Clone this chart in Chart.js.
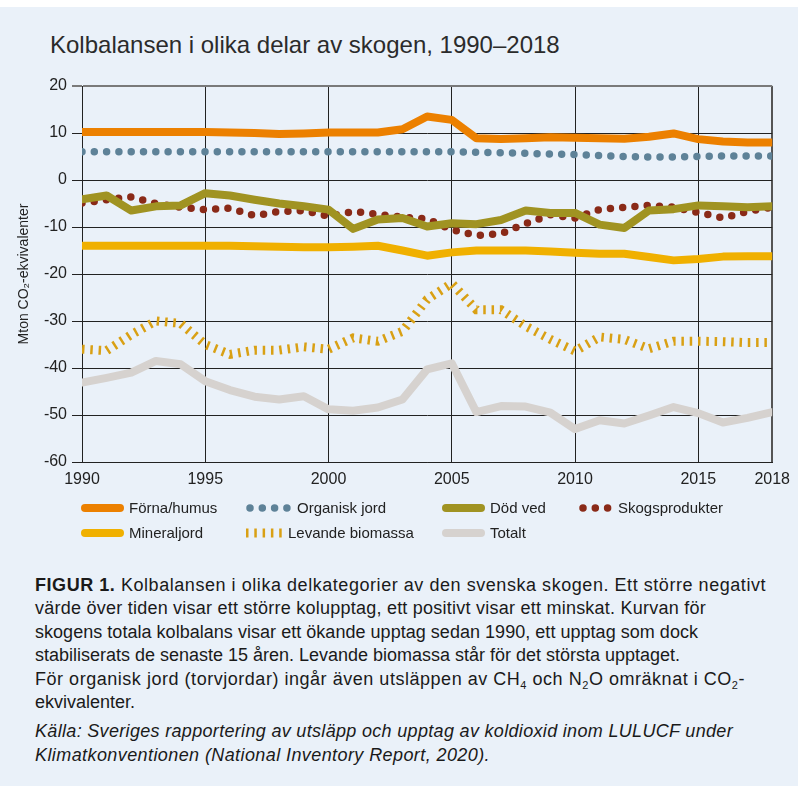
<!DOCTYPE html>
<html lang="sv">
<head>
<meta charset="utf-8">
<title>Kolbalansen i olika delar av skogen</title>
<script src="https://cdn.jsdelivr.net/npm/chart.js@4.4.1/dist/chart.umd.min.js"></script>
<style>
  html, body { margin: 0; padding: 0; }
  body {
    width: 798px; height: 786px; position: relative; overflow: hidden;
    background: #eaf1f9; color: #222;
    font-family: "Liberation Sans", Arial, sans-serif;
  }
  #topband { position: absolute; left: 0; top: 0; width: 798px; height: 7px; background: #fff; }
  #title {
    position: absolute; left: 50px; top: 31px; font-size: 24px; line-height: 28px;
    color: #2b2b2b; white-space: nowrap;
  }
  #chartBox { position: absolute; left: 0; top: 0; width: 798px; height: 500px; }
  #legend { position: absolute; left: 0; top: 0; width: 798px; height: 560px; pointer-events: none; }
  .swatch { position: absolute; }
  .ltext { position: absolute; font-size: 15px; line-height: 18px; color: #222; white-space: nowrap; }
  #caption {
    position: absolute; left: 35px; top: 574px; font-size: 18px;
    color: #1a1a1a; white-space: nowrap;
  }
  #caption .ln { height: 23.4px; line-height: 23.4px; }
  #caption .ln span { display: inline-block; }
  #caption sub { font-size: 11px; position: relative; top: 4px; vertical-align: baseline; line-height: 0; }
  #caption .src { font-style: italic; }
  #caption .gap { margin-top: 6px; }
</style>
</head>
<body>
<div id="topband"></div>
<div id="title">Kolbalansen i olika delar av skogen, 1990–2018</div>
<div id="chartBox"><canvas id="chart"></canvas></div>
<div id="legend"></div>
<div id="caption">
  <div class="ln"><span data-w="731"><b>FIGUR 1.</b> Kolbalansen i olika delkategorier av den svenska skogen. Ett större negativt</span></div>
  <div class="ln"><span data-w="671">värde över tiden visar ett större kolupptag, ett positivt visar ett minskat. Kurvan för</span></div>
  <div class="ln"><span data-w="663">skogens totala kolbalans visar ett ökande upptag sedan 1990, ett upptag som dock</span></div>
  <div class="ln"><span data-w="645">stabiliserats de senaste 15 åren. Levande biomassa står för det största upptaget.</span></div>
  <div class="ln"><span data-w="710">För organisk jord (torvjordar) ingår även utsläppen av CH<sub>4</sub> och N<sub>2</sub>O omräknat i CO<sub>2</sub>-</span></div>
  <div class="ln"><span>ekvivalenter.</span></div>
  <div class="ln src gap"><span data-w="698">Källa: Sveriges rapportering av utsläpp och upptag av koldioxid inom LULUCF under</span></div>
  <div class="ln src"><span data-w="455">Klimatkonventionen (National Inventory Report, 2020).</span></div>
</div>

<script>
// år
const years = [1990, 1991, 1992, 1993, 1994, 1995, 1996, 1997, 1998, 1999,
  2000, 2001, 2002, 2003, 2004, 2005, 2006, 2007, 2008, 2009,
  2010, 2011, 2012, 2013, 2014, 2015, 2016, 2017, 2018];

// Mton CO2-ekv per kategori
const fornaHumus = [10.2, 10.2, 10.2, 10.2, 10.2, 10.2, 10.1, 10.0, 9.8, 9.9,
  10.1, 10.1, 10.1, 10.8, 13.5, 12.8, 8.9, 8.7, 8.9, 9.1,
  9.0, 8.9, 8.8, 9.2, 9.9, 8.7, 8.2, 8.0, 8.0];
const organiskJord = [6.0, 6.0, 6.0, 6.0, 6.0, 6.0, 6.0, 6.0, 6.0, 6.0,
  6.0, 6.0, 6.0, 6.0, 6.0, 6.0, 5.9, 5.8, 5.7, 5.5,
  5.4, 5.2, 5.0, 4.9, 4.9, 5.0, 5.1, 5.1, 5.1];
const dodVed = [-4.1, -3.3, -6.5, -5.6, -5.4, -2.8, -3.3, -4.2, -5.0, -5.6,
  -6.3, -10.4, -8.4, -8.1, -9.9, -9.2, -9.4, -8.5, -6.5, -7.0,
  -7.0, -9.5, -10.2, -6.5, -6.2, -5.4, -5.6, -5.8, -5.6];
const skogsprodukter = [-4.9, -4.2, -3.6, -5.0, -5.8, -6.3, -6.0, -7.6, -6.7, -6.5,
  -7.7, -6.7, -7.3, -7.9, -8.3, -10.6, -11.8, -11.4, -9.3, -7.4,
  -8.1, -6.3, -5.8, -5.4, -5.8, -6.9, -8.1, -6.7, -5.8];
const mineraljord = [-14.0, -14.0, -14.0, -14.0, -14.0, -14.0, -14.0, -14.1, -14.2, -14.3,
  -14.3, -14.2, -14.0, -15.0, -16.1, -15.4, -15.0, -15.0, -15.0, -15.2,
  -15.5, -15.7, -15.7, -16.4, -17.1, -16.8, -16.3, -16.2, -16.2];
const levandeBiomassa = [-36.0, -36.3, -32.9, -30.0, -30.5, -35.0, -37.1, -36.2, -36.2, -35.5,
  -36.0, -33.6, -34.3, -32.2, -25.4, -22.0, -27.6, -27.6, -31.1, -33.9,
  -36.4, -33.4, -33.9, -35.9, -34.3, -34.3, -34.4, -34.6, -34.6];
const totalt = [-43.1, -42.1, -41.0, -38.5, -39.2, -42.8, -44.7, -46.1, -46.7, -46.0,
  -48.8, -49.1, -48.4, -46.7, -40.3, -39.0, -49.4, -48.1, -48.2, -49.5,
  -53.0, -51.1, -51.8, -50.1, -48.3, -49.6, -51.6, -50.6, -49.4];

const xTicks = [1990, 1995, 2000, 2005, 2010, 2015, 2018];
const yTicks = [20, 10, 0, -10, -20, -30, -40, -50, -60];

const FONT = "'Liberation Sans', Arial, sans-serif";
Chart.defaults.font.family = FONT;
Chart.defaults.color = '#222';

// stil per serie (solid, dots, ticks)
function serie(label, values, color, kind) {
  const ds = {
    label: label,
    data: values.map((v, i) => ({ x: years[i], y: v })),
    borderColor: color,
    borderWidth: 8,
    borderCapStyle: 'round',
    borderJoinStyle: 'round',
    pointRadius: 0,
    tension: 0,
    fill: false,
    kind: kind
  };
  if (kind === 'dots') {
    ds.borderWidth = 7.5;
    ds.borderDash = [0, 12.3];
  }
  if (kind === 'ticks') {
    ds.borderWidth = 9;
    ds.borderCapStyle = 'butt';
    ds.borderJoinStyle = 'miter';
    ds.borderDash = [2.5, 5.8];
  }
  return ds;
}

const datasets = [
  serie('Förna/humus', fornaHumus, '#ec8000', 'solid'),
  serie('Organisk jord', organiskJord, '#5e8298', 'dots'),
  serie('Död ved', dodVed, '#a09322', 'solid'),
  serie('Skogsprodukter', skogsprodukter, '#8a2a18', 'dots'),
  serie('Mineraljord', mineraljord, '#f0b000', 'solid'),
  serie('Levande biomassa', levandeBiomassa, '#d9a014', 'ticks'),
  serie('Totalt', totalt, '#d6d2cf', 'solid')
];

const chart = new Chart(document.getElementById('chart').getContext('2d'), {
  type: 'line',
  data: { datasets: datasets },
  options: {
    responsive: true,
    maintainAspectRatio: false,
    animation: false,
    layout: { padding: { top: 86, right: 25, left: 0, bottom: 0 } },
    plugins: {
      legend: { display: false },
      tooltip: { enabled: false },
      title: { display: false }
    },
    scales: {
      x: {
        type: 'linear',
        min: 1990,
        max: 2018,
        afterBuildTicks: (scale) => { scale.ticks = xTicks.map(v => ({ value: v })); },
        afterFit: (scale) => { scale.height = 38; },
        ticks: {
          font: { size: 16 },
          color: '#222',
          padding: 8,
          maxRotation: 0,
          autoSkip: false,
          callback: (v) => String(v)
        },
        grid: {
          drawTicks: false,
          color: (c) => c.tick && c.tick.value === 2018 ? '#555' : '#222',
          lineWidth: (c) => c.tick && c.tick.value === 2018 ? 2 : 1
        },
        border: { color: '#222' }
      },
      y: {
        min: -60,
        max: 20,
        afterBuildTicks: (scale) => { scale.ticks = yTicks.map(v => ({ value: v })); },
        afterFit: (scale) => { scale.width = 82; },
        ticks: { font: { size: 16 }, color: '#222', padding: 5 },
        grid: {
          tickLength: 10,
          color: (c) => c.tick && c.tick.value === 20 ? '#7a7a7a' : '#222',
          lineWidth: (c) => c.tick && c.tick.value === 20 ? 2 : 1
        },
        border: { color: '#222' },
        title: {
          display: true,
          text: 'Mton CO₂-ekvivalenter',
          font: { size: 14 },
          color: '#222',
          padding: { top: 16, bottom: 0 }
        }
      }
    }
  }
});

// förklaring
const legendSlots = [
  { x: 80, y: 508, dots: 0 }, { x: 245, y: 508, dots: 4 },
  { x: 441, y: 508, dots: 0 }, { x: 578, y: 508, dots: 3 },
  { x: 80, y: 533, dots: 0 }, { x: 245, y: 533, dots: 0 },
  { x: 441, y: 533, dots: 0 }
];
const legendBox = document.getElementById('legend');
datasets.forEach((ds, i) => {
  const slot = legendSlots[i];
  const w = ds.kind === 'dots' ? (slot.dots - 1) * 12.3 + 10 : (ds.kind === 'ticks' ? 38 : 44);
  const c = document.createElement('canvas');
  c.width = Math.ceil(w) + 2; c.height = 14;
  c.className = 'swatch';
  c.style.left = slot.x + 'px';
  c.style.top = (slot.y - 7) + 'px';
  const g = c.getContext('2d');
  g.strokeStyle = ds.borderColor;
  g.lineWidth = ds.borderWidth;
  g.lineCap = ds.borderCapStyle;
  if (ds.borderDash) g.setLineDash(ds.borderDash);
  g.beginPath();
  if (ds.kind === 'ticks') {
    g.moveTo(1, 7); g.lineTo(w, 7);
  } else {
    g.moveTo(5, 7); g.lineTo(w - 4, 7);
  }
  g.stroke();
  legendBox.appendChild(c);

  const t = document.createElement('div');
  t.className = 'ltext';
  t.textContent = ds.label;
  t.style.left = (slot.x + Math.ceil(w) + 5) + 'px';
  t.style.top = (slot.y - 9) + 'px';
  legendBox.appendChild(t);
});

// bildtext: sprid raderna till samma bredd som i originalet
document.querySelectorAll('#caption span[data-w]').forEach(sp => {
  const target = parseFloat(sp.dataset.w);
  const w = sp.getBoundingClientRect().width;
  const n = sp.textContent.length;
  if (n > 1) sp.style.letterSpacing = ((target - w) / n).toFixed(3) + 'px';
});
</script>
</body>
</html>
